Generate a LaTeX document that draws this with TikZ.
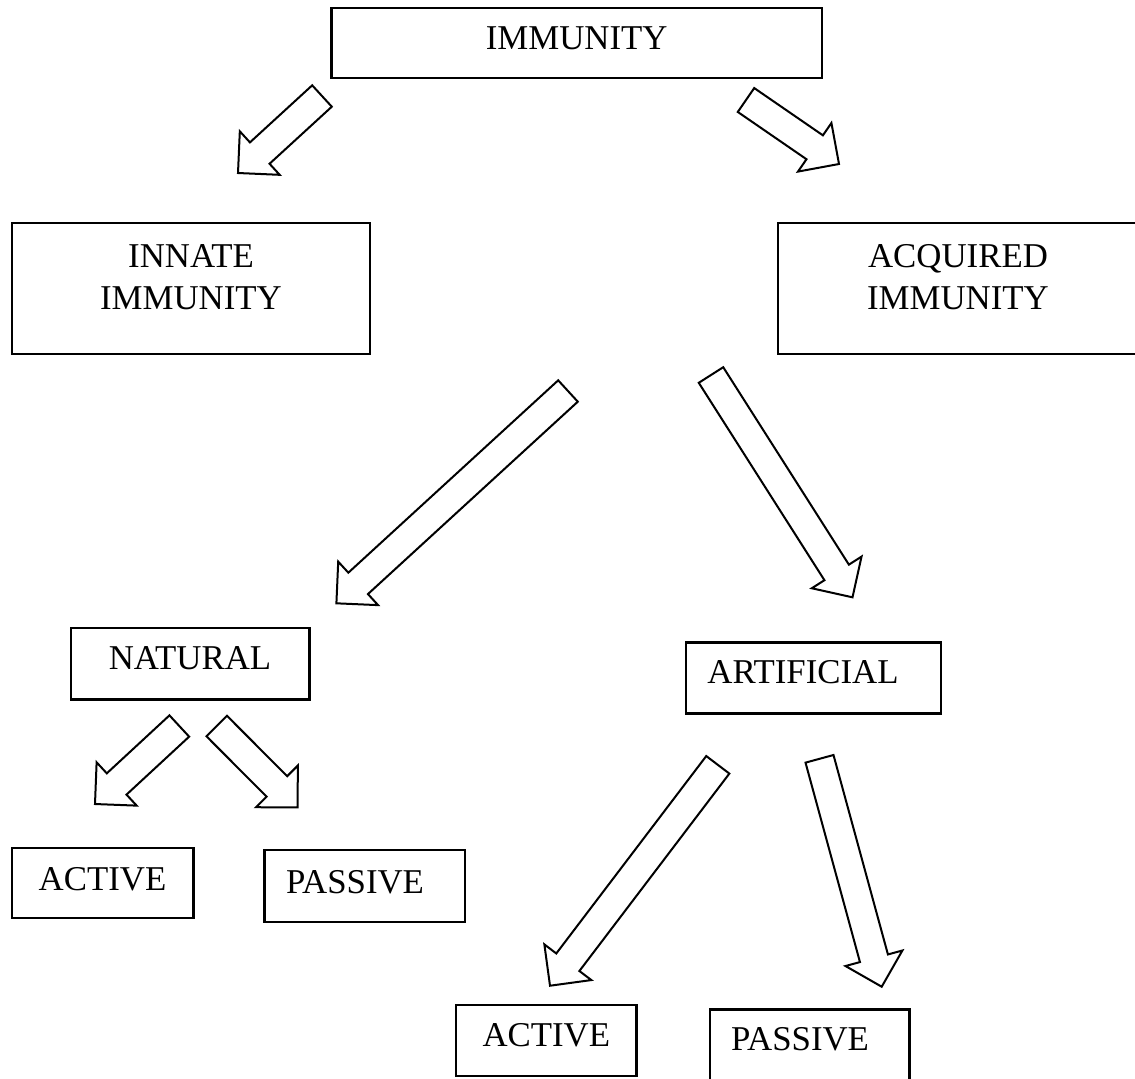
\documentclass[tikz,border=0pt]{standalone}
\usepackage{fontspec}
\setmainfont{Liberation Serif}
\usetikzlibrary{calc}

% hollow block arrow from tail #1 to tip #2
\newcommand{\blockarrow}[2]{%
  \coordinate (hb) at ($(#2)!14.75pt!(#1)$);
  \draw[barrow] ($(#1)!7.25pt!90:(#2)$) -- ($(hb)!7.25pt!90:(#2)$)
    -- ($(hb)!14.75pt!90:(#2)$) -- (#2) -- ($(hb)!14.75pt!-90:(#2)$)
    -- ($(hb)!7.25pt!-90:(#2)$) -- ($(#1)!7.25pt!-90:(#2)$) -- cycle;
}

\begin{document}
\begin{tikzpicture}[
  x=0.5pt, y=-0.5pt,
  box/.style={rectangle, draw, line width=1.2pt, align=center, inner sep=0pt,
    font=\fontsize{17.4}{21}\selectfont},
  barrow/.style={draw, line width=1pt, fill=white}
]
\useasboundingbox (0,0) rectangle (1135,1078);

% Top level
\node[box, minimum width=245.25pt, minimum height=35pt, text depth=4.5pt] (immunity) at (576.75,43) {IMMUNITY};

% Second level
\node[box, minimum width=179pt, minimum height=65.5pt, text depth=11.5pt] (innate) at (191,288.5) {INNATE\\IMMUNITY};
\node[box, minimum width=180pt, minimum height=65.5pt, text depth=11.5pt] (acquired) at (958,288.5) {ACQUIRED\\IMMUNITY};

% Third level
\node[box, minimum width=119.3pt, minimum height=35.8pt, text depth=5.2pt] (natural) at (190,663.5) {NATURAL};
\node[box, minimum width=127.5pt, minimum height=35.5pt, text depth=5.8pt] (artificial) at (813.5,677.8) {ARTIFICIAL\hspace{10.5pt}};

% Fourth level
\node[box, minimum width=90.8pt, minimum height=35pt, text depth=4pt] (natactive) at (102.5,883) {ACTIVE};
\node[box, minimum width=100.3pt, minimum height=36pt, text depth=4pt] (natpassive) at (364.7,886) {PASSIVE\hspace{9.7pt}};
\node[box, minimum width=90.3pt, minimum height=35.5pt, text depth=5.5pt] (artactive) at (546.3,1040.5) {ACTIVE};
\node[box, minimum width=99.7pt, minimum height=35.5pt, text depth=5.8pt] (artpassive) at (809.7,1044.8) {PASSIVE\hspace{9.7pt}};

% Arrow ends
\coordinate (innateS) at (322,96);       \coordinate (innateE) at (238,173);
\coordinate (acquiredS) at (746,100);    \coordinate (acquiredE) at (839,164);
\coordinate (naturalS) at (568,391);     \coordinate (naturalE) at (336.4,603.3);
\coordinate (artificialS) at (711,375);  \coordinate (artificialE) at (852.5,597.3);
\coordinate (natactiveS) at (179.3,726); \coordinate (natactiveE) at (95,804);
\coordinate (natpassiveS) at (216.7,726);\coordinate (natpassiveE) at (297.7,807.3);
\coordinate (artactiveS) at (717.8,764.8);  \coordinate (artactiveE) at (550,985.7);
\coordinate (artpassiveS) at (819.5,758.8); \coordinate (artpassiveE) at (881.7,986.7);

% Arrows
\blockarrow{innateS}{innateE}
\blockarrow{acquiredS}{acquiredE}
\blockarrow{naturalS}{naturalE}
\blockarrow{artificialS}{artificialE}
\blockarrow{natactiveS}{natactiveE}
\blockarrow{natpassiveS}{natpassiveE}
\blockarrow{artactiveS}{artactiveE}
\blockarrow{artpassiveS}{artpassiveE}

\end{tikzpicture}
\end{document}
